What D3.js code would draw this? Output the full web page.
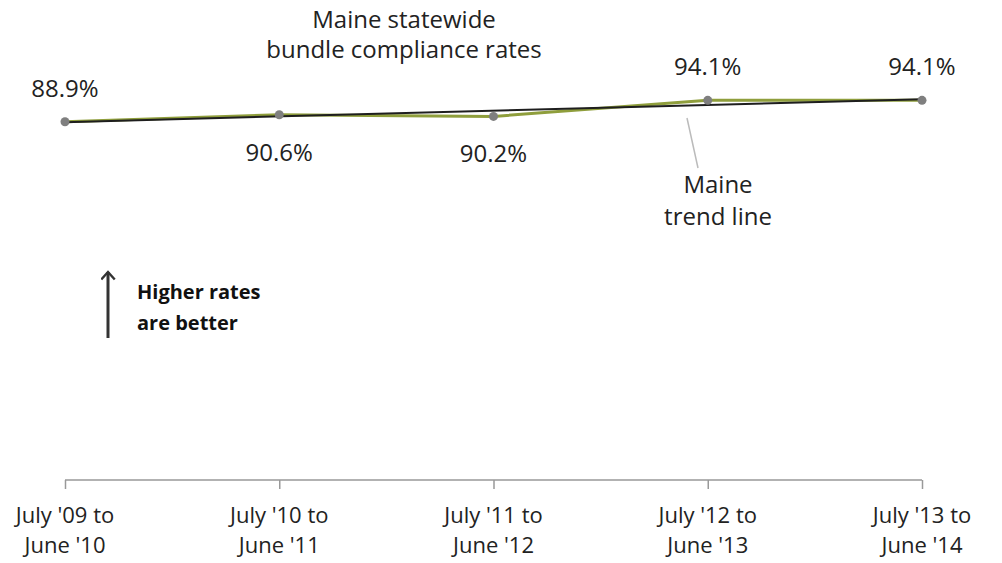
<!DOCTYPE html>
<html>
<head>
<meta charset="utf-8">
<script src="https://cdn.jsdelivr.net/npm/d3@7"></script>
<style>
  body { margin: 0; background: #fff; }
  svg { display: block; font-family: "Open Sans", sans-serif; }
</style>
</head>
<body>
<div id="chart"></div>
<script>
const canvWidth = 1002, canvHeight = 563;

// data
const periods = ["July '09 to|June '10", "July '10 to|June '11", "July '11 to|June '12",
                 "July '12 to|June '13", "July '13 to|June '14"];
const rates = [88.9, 90.6, 90.2, 94.1, 94.1];
const labelSide = ["above", "below", "below", "above", "above"];

const svg = d3.select('#chart')
    .append('svg')
    .attr('width', canvWidth)
    .attr('height', canvHeight);

const xScale = d3.scalePoint()
    .domain(periods)
    .range([65, 922]);

const yScale = d3.scaleLinear()
    .domain([2, 100])
    .range([480, 76]);

// x axis
const xAxis = svg.append('g')
    .attr('transform', 'translate(0,480)')
    .call(d3.axisBottom(xScale).tickSize(9).tickSizeOuter(0).tickFormat(''));
xAxis.select('.domain').attr('stroke', '#999').attr('stroke-width', 1.5)
    .attr('d', `M${xScale(periods[0])},0H${xScale(periods[4])}`);
xAxis.selectAll('.tick line').attr('stroke', '#999').attr('stroke-width', 1.5);

const tickLabels = svg.append('g')
    .selectAll('text')
    .data(periods)
    .enter()
    .append('text')
    .attr('x', d => xScale(d))
    .attr('y', 523)
    .style('text-anchor', 'middle')
    .style('font-size', '22px')
    .style('fill', '#222');
tickLabels.each(function (d) {
    const parts = d.split('|');
    d3.select(this).selectAll('tspan')
        .data(parts)
        .enter()
        .append('tspan')
        .attr('x', xScale(d))
        .attr('dy', (p, i) => i === 0 ? 0 : 30)
        .text(p => p);
});

// data line
const line = d3.line()
    .x((d, i) => xScale(periods[i]))
    .y(d => yScale(d));

svg.append('path')
    .datum(rates)
    .attr('d', line)
    .attr('fill', 'none')
    .attr('stroke', '#8f9e3c')
    .attr('stroke-width', 3);

// linear trend line
const n = rates.length;
const meanX = d3.mean(d3.range(n));
const meanY = d3.mean(rates);
const slope = d3.sum(rates, (v, i) => (i - meanX) * (v - meanY)) /
    d3.sum(d3.range(n), i => (i - meanX) * (i - meanX));
const trend = d3.range(n).map(i => meanY + slope * (i - meanX));

svg.append('path')
    .datum([trend[0], trend[n - 1]])
    .attr('d', d3.line()
        .x((d, i) => xScale(periods[i * (n - 1)]))
        .y(d => yScale(d)))
    .attr('fill', 'none')
    .attr('stroke', '#1e1e1e')
    .attr('stroke-width', 2);

// markers
svg.append('g')
    .selectAll('circle')
    .data(rates)
    .enter()
    .append('circle')
    .attr('cx', (d, i) => xScale(periods[i]))
    .attr('cy', d => yScale(d))
    .attr('r', 4.5)
    .style('fill', '#7f7f7f');

// value labels
svg.append('g')
    .selectAll('text')
    .data(rates)
    .enter()
    .append('text')
    .attr('x', (d, i) => xScale(periods[i]))
    .attr('y', (d, i) => labelSide[i] === 'above' ? yScale(d) - 25 : yScale(d) + 46)
    .style('text-anchor', 'middle')
    .style('font-size', '24px')
    .style('fill', '#222')
    .text(d => d.toFixed(1) + '%');

// title
const title = svg.append('text')
    .style('text-anchor', 'middle')
    .style('font-size', '24px')
    .style('fill', '#222');
title.append('tspan').attr('x', 404).attr('y', 28).text('Maine statewide');
title.append('tspan').attr('x', 404).attr('y', 58).text('bundle compliance rates');

// trend line callout
svg.append('line')
    .attr('x1', 687).attr('y1', 118)
    .attr('x2', 698).attr('y2', 168)
    .attr('stroke', '#bbb')
    .attr('stroke-width', 1.5);
const callout = svg.append('text')
    .style('text-anchor', 'middle')
    .style('font-size', '24px')
    .style('fill', '#222');
callout.append('tspan').attr('x', 718).attr('y', 193).text('Maine');
callout.append('tspan').attr('x', 718).attr('y', 225).text('trend line');

// "higher rates are better" note
svg.append('defs').append('marker')
    .attr('id', 'head')
    .attr('viewBox', '0 0 10 10')
    .attr('refX', 6).attr('refY', 5)
    .attr('markerWidth', 5).attr('markerHeight', 5)
    .attr('markerUnits', 'strokeWidth')
    .attr('orient', 'auto')
    .append('path')
    .attr('d', 'M1,0.5L6,5L1,9.5')
    .attr('fill', 'none')
    .attr('stroke', '#333')
    .attr('stroke-width', 1.6);
svg.append('line')
    .attr('x1', 108).attr('y1', 338)
    .attr('x2', 108).attr('y2', 272)
    .attr('stroke', '#333')
    .attr('stroke-width', 3)
    .attr('marker-end', 'url(#head)');
const note = svg.append('text')
    .style('font-size', '20px')
    .style('font-weight', 'bold')
    .style('fill', '#111');
note.append('tspan').attr('x', 137).attr('y', 299).text('Higher rates');
note.append('tspan').attr('x', 137).attr('y', 330).text('are better');
</script>
</body>
</html>
